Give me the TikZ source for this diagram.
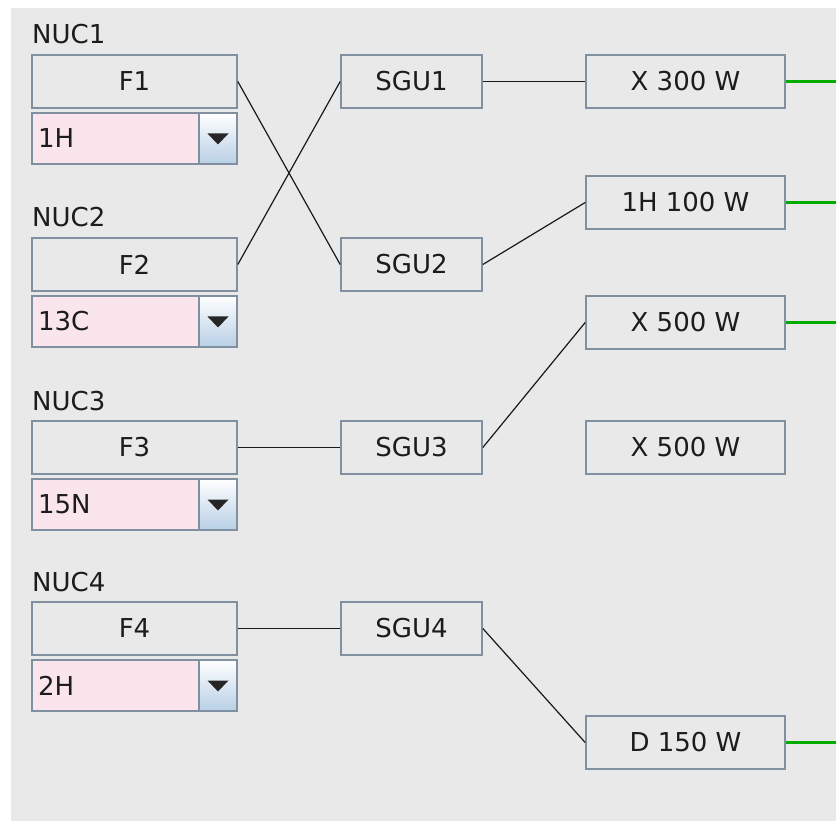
\documentclass[tikz,border=0pt]{standalone}
\usepackage{fontspec}
\setmainfont{DejaVu Sans}
\definecolor{bg}{RGB}{233,233,233}
\definecolor{bordercol}{RGB}{128,144,160}
\definecolor{pinkfill}{RGB}{250,229,236}
\definecolor{btnblue}{RGB}{184,207,229}
\definecolor{txt}{RGB}{28,28,28}
\definecolor{greenline}{RGB}{0,172,0}
\tikzset{
  lbl/.style={font=\fontsize{26}{31}\selectfont, text=txt},
  box/.style={lbl, draw=bordercol, line width=1.6pt, fill=bg, minimum height=53pt, inner sep=0pt},
  fbox/.style={box, minimum width=205pt},
  sgubox/.style={box, minimum width=141pt},
  pbox/.style={box, minimum width=199pt},
  combotext/.style={lbl, draw=bordercol, line width=1.6pt, fill=pinkfill, minimum height=51pt, inner xsep=6pt, inner ysep=0pt, text width=155pt, align=left},
  btn/.style={draw=bordercol, line width=1.6pt, top color=white, bottom color=btnblue, minimum width=38pt, minimum height=51pt, inner sep=0pt},
  nuc/.style={lbl, anchor=base west, inner sep=0pt},
  conn/.style={draw=black!90, line width=1.2pt},
  gline/.style={draw=greenline, line width=3pt},
}
\newcommand{\comborow}[3]{%
  \node[combotext] (c#1) at (115.5,#2) {#3};
  \node[btn] (b#1) at (218,#2) {};
  \fill[black!85] (b#1.center) ++(-10.5,-5) -- ++(21,0) -- ++(-10.5,11) -- cycle;
}
\begin{document}
\begin{tikzpicture}[x=1pt,y=-1pt]
\useasboundingbox (0,0) rectangle (836,821);
\fill[white] (0,0) rectangle (836,821);
\fill[bg] (11,8) rectangle (836,821);

% left column
\node[nuc] (n1) at (32,44) {NUC1};
\node[fbox] (F1) at (134.5,81.5) {F1};
\comborow{1}{138.5}{1H}
\node[nuc] (n2) at (32,227) {NUC2};
\node[fbox] (F2) at (134.5,264.5) {F2};
\comborow{2}{321.5}{13C}
\node[nuc] (n3) at (32,410) {NUC3};
\node[fbox] (F3) at (134.5,447.5) {F3};
\comborow{3}{504.5}{15N}
\node[nuc] (n4) at (32,591) {NUC4};
\node[fbox] (F4) at (134.5,628.5) {F4};
\comborow{4}{685.5}{2H}

% SGU column
\node[sgubox] (S1) at (411.5,81.5) {SGU1};
\node[sgubox] (S2) at (411.5,264.5) {SGU2};
\node[sgubox] (S3) at (411.5,447.5) {SGU3};
\node[sgubox] (S4) at (411.5,628.5) {SGU4};

% power column
\node[pbox] (P1) at (685.5,81.5) {X 300 W};
\node[pbox] (P2) at (685.5,202.5) {1H 100 W};
\node[pbox] (P3) at (685.5,322.5) {X 500 W};
\node[pbox] (P4) at (685.5,447.5) {X 500 W};
\node[pbox] (P5) at (685.5,742.5) {D 150 W};

% connectors
\draw[conn] (F1.east) -- (S2.west);
\draw[conn] (F2.east) -- (S1.west);
\draw[conn] (S1.east) -- (P1.west);
\draw[conn] (S2.east) -- (P2.west);
\draw[conn] (F3.east) -- (S3.west);
\draw[conn] (S3.east) -- (P3.west);
\draw[conn] (F4.east) -- (S4.west);
\draw[conn] (S4.east) -- (P5.west);

% green outputs
\coordinate (g1) at (836,81.5);
\coordinate (g2) at (836,202.5);
\coordinate (g3) at (836,322.5);
\coordinate (g5) at (836,742.5);
\draw[gline] (P1.east) -- (g1);
\draw[gline] (P2.east) -- (g2);
\draw[gline] (P3.east) -- (g3);
\draw[gline] (P5.east) -- (g5);
\end{tikzpicture}
\end{document}
